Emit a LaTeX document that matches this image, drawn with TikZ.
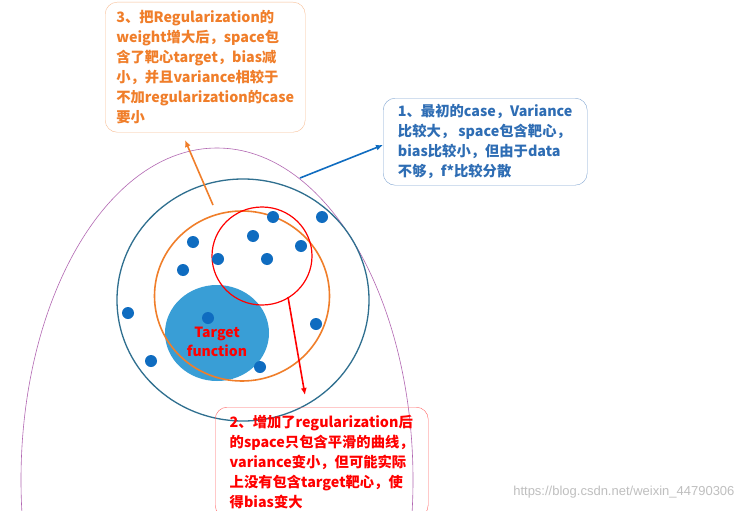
\documentclass[tikz,border=0pt]{standalone}
\usepackage{fontspec}
\usetikzlibrary{shapes.geometric,arrows.meta}
\setmainfont{Liberation Sans}
\newfontfamily\cjk{Noto Sans CJK SC}
\definecolor{borange}{HTML}{F07E2A}
\definecolor{bblue}{HTML}{2E6DB4}
\definecolor{dot}{HTML}{0F6CC0}
\definecolor{teal}{HTML}{2F6F8F}
\definecolor{tgt}{HTML}{399ED6}
\begin{document}
\begin{tikzpicture}[x=1pt,y=-1pt,
  box/.style={draw, rounded corners=12pt, align=left, inner xsep=6pt, inner ysep=5pt, font=\cjk\bfseries\fontsize{14.3}{20}\selectfont, anchor=north west},
  pt/.style={circle, fill=dot, minimum width=11pt, minimum height=12pt, inner sep=0pt},
  arr/.style={-{Latex[length=7pt,width=6pt]}, line width=1.6pt}]
\useasboundingbox (0,0) rectangle (744,511);
\fill[white] (0,0) rectangle (744,511);
\draw[violet!60, line width=0.6pt] (217,480) ellipse [x radius=196, y radius=332];
\node[ellipse, fill=tgt, minimum width=104pt, minimum height=96pt] (tf) at (217,333) {};
\node[ellipse, draw=teal, line width=1.3pt, minimum width=252pt, minimum height=242pt] (sp1) at (243,300) {};
\node[ellipse, draw=borange, line width=1.6pt, minimum width=175pt, minimum height=170pt] (sp3) at (242,296) {};
\node[ellipse, draw=red, line width=1.2pt, minimum width=100pt, minimum height=98pt] (sp2) at (262,256) {};
\node[font=\cjk\bfseries\fontsize{14}{19}\selectfont, text=red, align=center] (tt) at (217,342) {Target\\function};
\foreach \i/\x/\y in {1/193/242,2/183/270,3/273/217,4/322/217,5/253/236,6/218/259,7/267/259,8/301/246,9/128/313,10/208/318,11/316/324,12/151/361,13/260/367}
  \node[pt] (d\i) at (\x,\y) {};
\node[box, draw=borange!50, text=borange, minimum width=200pt, minimum height=130pt] (b3) at (105,2) {3、把Regularization的\\weight增大后，space包\\含了靶心target，bias减\\小，并且variance相较于\\不加regularization的case\\要小};
\node[box, draw=bblue!60, text=bblue, minimum width=204pt, minimum height=87pt] (b1) at (383,98) {1、最初的case，Variance\\比较大， space包含靶心，\\bias比较小，但由于data\\不够，f*比较分散};
\node[box, draw=red!60, text=red, minimum width=213pt, minimum height=110pt] (b2) at (215,407) {2、增加了regularization后\\的space只包含平滑的曲线，\\variance变小，但可能实际\\上没有包含target靶心，使\\得bias变大};
\coordinate (a3) at (213,205); \coordinate (a3e) at (185,140);
\coordinate (a1) at (300,178); \coordinate (a1e) at (383,145);
\coordinate (a2) at (288,297); \coordinate (a2e) at (305,395);
\draw[arr, borange] (a3) -- (a3e);
\draw[arr, dot] (a1) -- (a1e);
\draw[arr, red] (a2) -- (a2e);
\node[text=gray!50, font=\fontsize{13}{15}\selectfont, anchor=east] (wm) at (738,492) {https://blog.csdn.net/weixin\_44790306};
\end{tikzpicture}
\end{document}
